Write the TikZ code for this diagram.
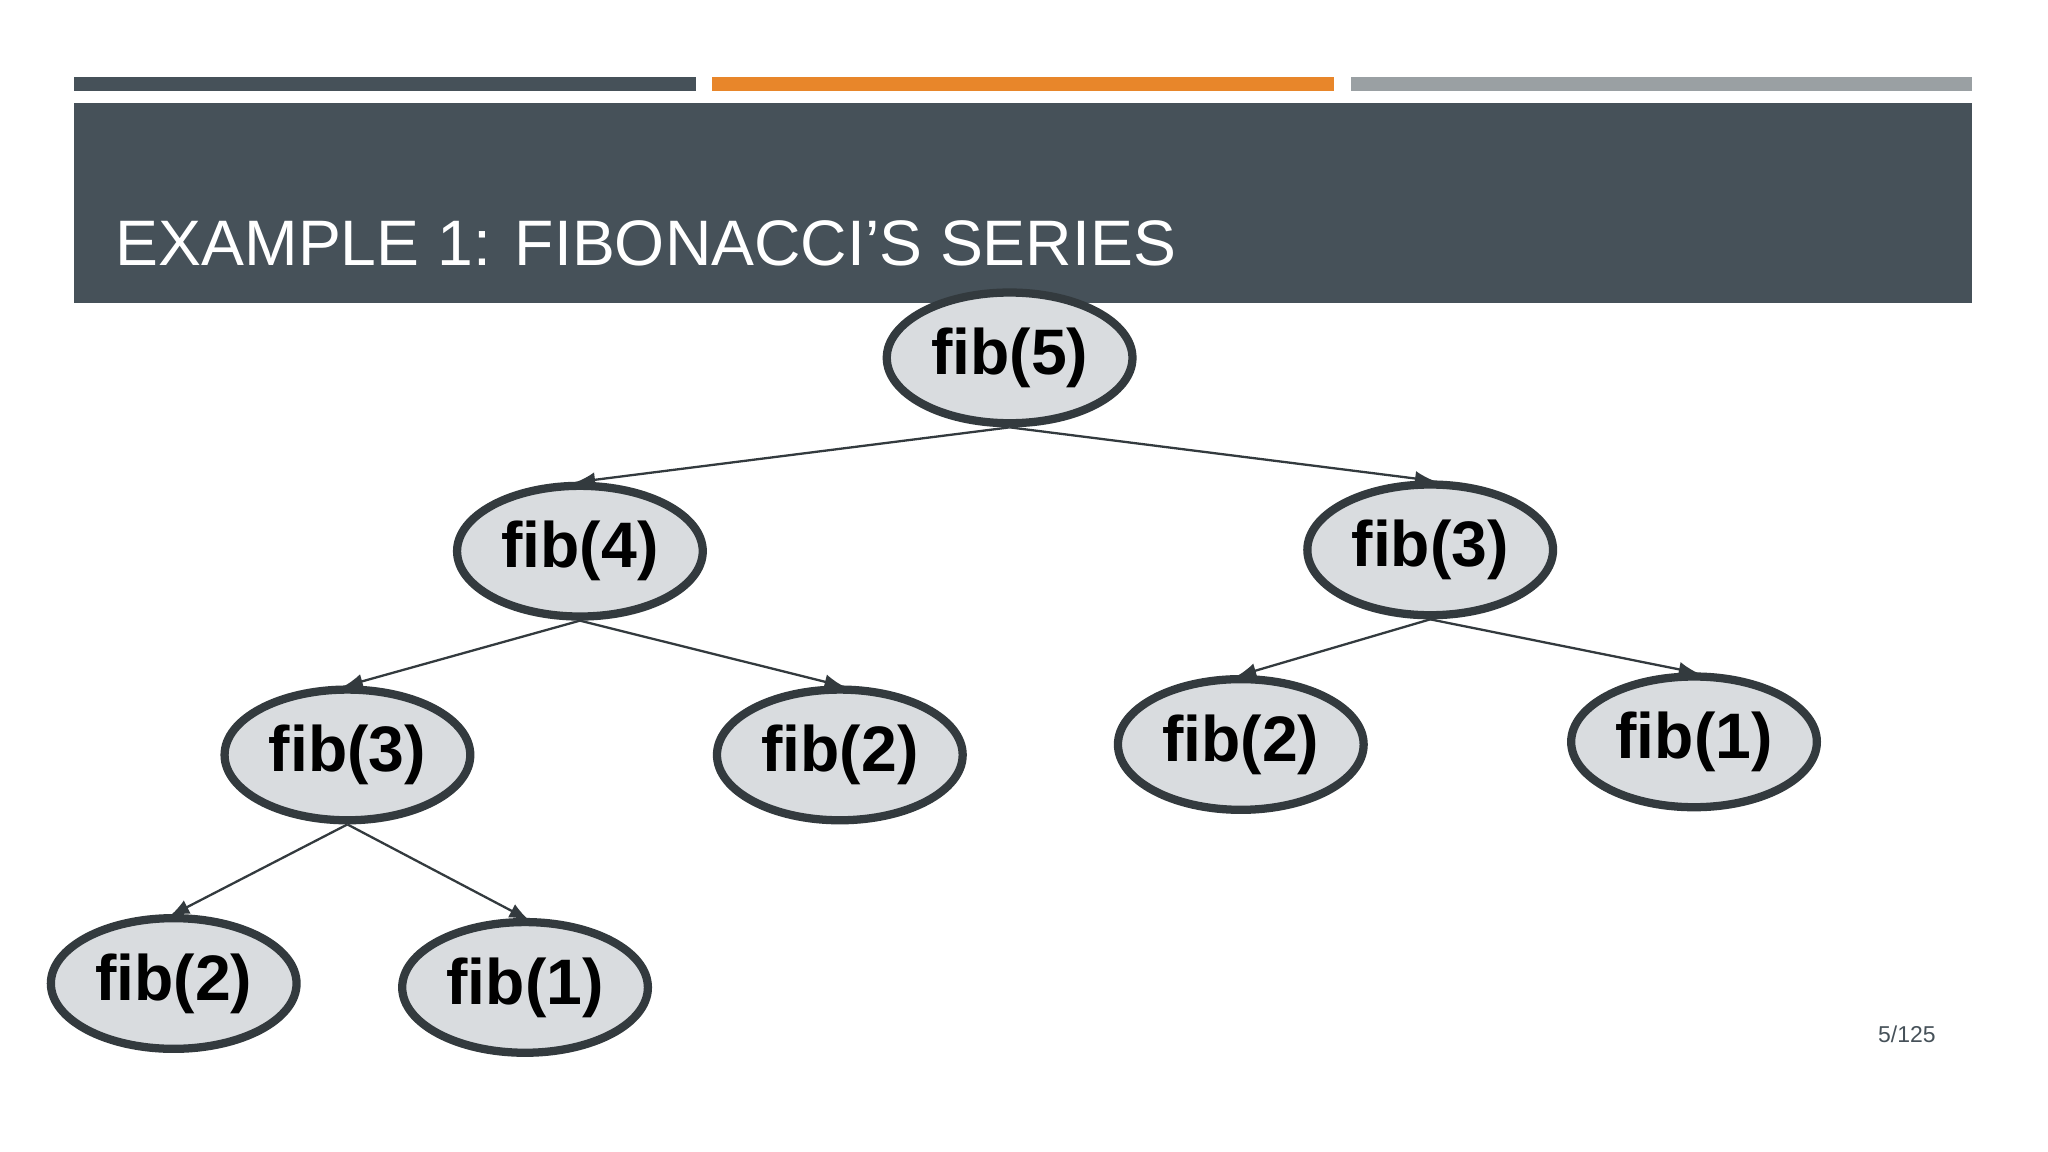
\documentclass[tikz,border=0pt]{standalone}
\usepackage{fontspec}
\setmainfont{Liberation Sans}
\usetikzlibrary{shapes.geometric,arrows}
\definecolor{slate}{HTML}{465159}
\definecolor{tangerine}{HTML}{E8862A}
\definecolor{ash}{HTML}{9AA0A3}
\definecolor{bubble}{HTML}{D9DCDF}
\definecolor{rim}{HTML}{333A3E}
\tikzset{
  call/.style={ellipse,draw=rim,line width=1.8pt,fill=bubble,minimum width=1.88cm,minimum height=1.0cm,inner sep=0pt,font=\fontsize{14}{16}\selectfont\bfseries},
  link/.style={-latex,draw=rim,line width=0.5pt,shorten >=-1pt}
}
\begin{document}
\begin{tikzpicture}[x=0.01cm,y=-0.01cm]
\useasboundingbox (0,0) rectangle (1568,882);
% top bars and header
\fill[slate] (57,59) rectangle (533,70);
\fill[tangerine] (545,59) rectangle (1021,70);
\fill[ash] (1034,59) rectangle (1510,70);
\fill[slate] (57,79) rectangle (1510,232);
\node[anchor=base west,text=white,font=\fontsize{14}{16}\selectfont,inner sep=0pt] (title) at (88,203) {EXAMPLE 1: FIBONACCI’S SERIES};

% call tree
\node[call] (f5) at (773,274) {fib(5)};
\node[call] (f4) at (444,422) {fib(4)};
\node[call] (f3r) at (1095,421) {fib(3)};
\node[call] (f3l) at (266,578) {fib(3)};
\node[call] (f2a) at (643,578) {fib(2)};
\node[call] (f2b) at (950,570) {fib(2)};
\node[call] (f1a) at (1297,568) {fib(1)};
\node[call] (f2c) at (133,753) {fib(2)};
\node[call] (f1b) at (402,756) {fib(1)};

\draw[link] (f5.south) -- (f4.north);
\draw[link] (f5.south) -- (f3r.north);
\draw[link] (f4.south) -- (f3l.north);
\draw[link] (f4.south) -- (f2a.north);
\draw[link] (f3r.south) -- (f2b.north);
\draw[link] (f3r.south) -- (f1a.north);
\draw[link] (f3l.south) -- (f2c.north);
\draw[link] (f3l.south) -- (f1b.north);

\node[text=slate,font=\fontsize{5}{6}\selectfont] (page) at (1460,792) {5/125};
\end{tikzpicture}
\end{document}
